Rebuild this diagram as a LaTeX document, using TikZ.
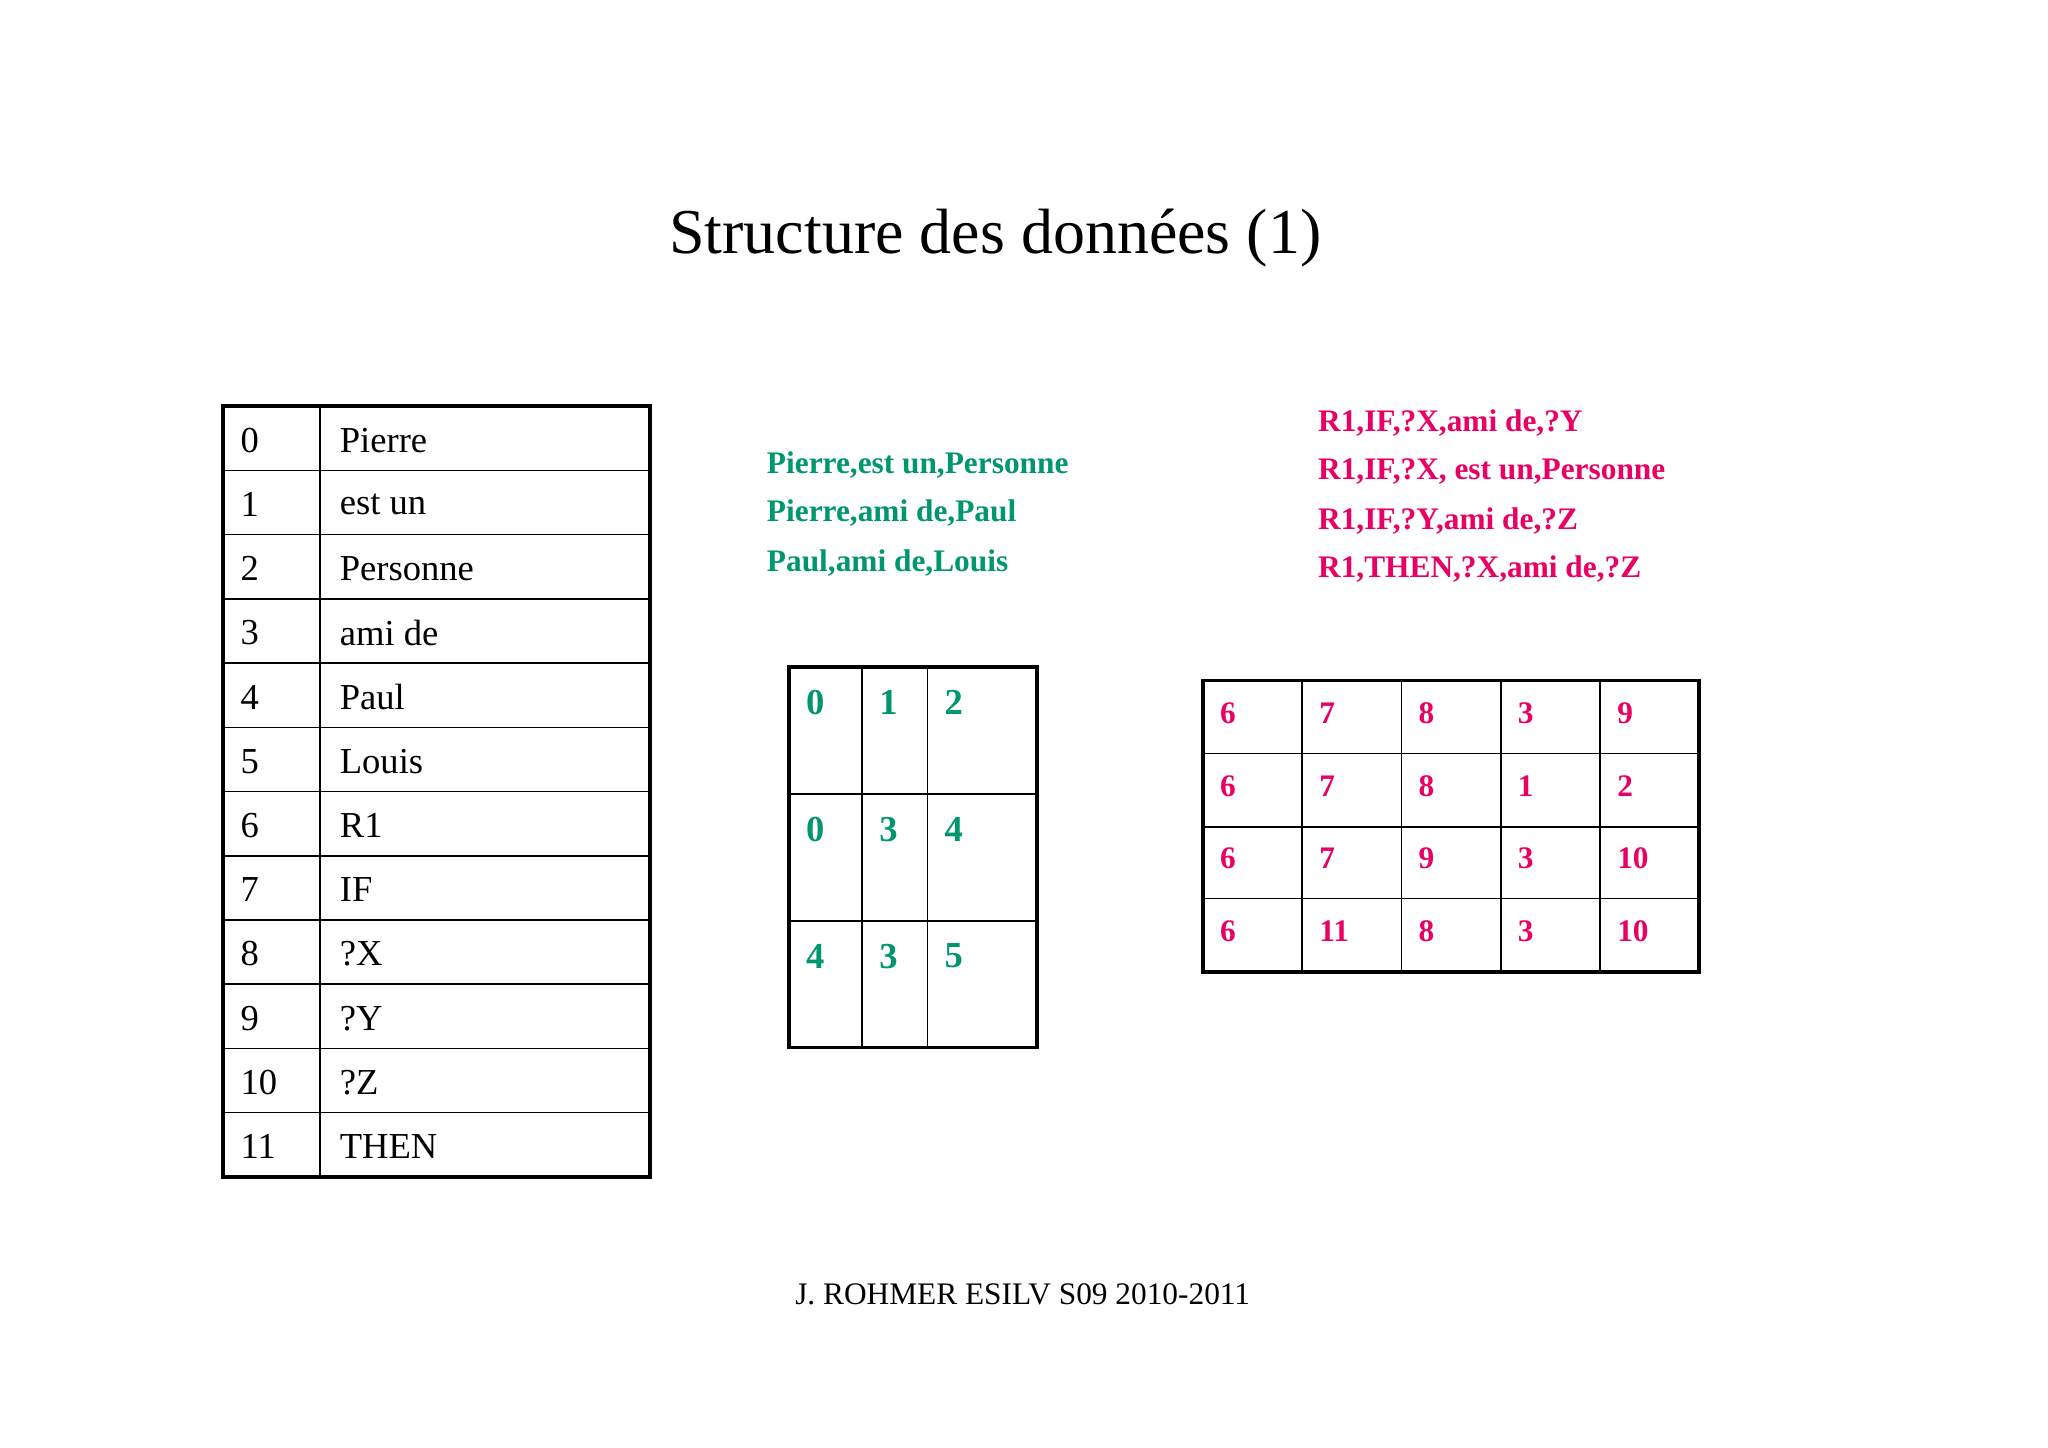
\documentclass[tikz,border=0pt]{standalone}
\usepackage{fontspec}
\setmainfont{Liberation Serif}
\definecolor{gr}{RGB}{0,150,110}
\definecolor{rd}{RGB}{232,0,100}
\begin{document}
\begin{tikzpicture}[x=1pt,y=-1pt,
  tbl/.style={line width=1.2pt},
  frame/.style={line width=3pt},
  cell/.style={anchor=west,inner sep=0pt,font=\fontsize{28}{30}\selectfont},
  gtxt/.style={anchor=west,inner sep=0pt,text=gr,font=\bfseries\fontsize{24}{26}\selectfont},
  rtxt/.style={anchor=west,inner sep=0pt,text=rd,font=\bfseries\fontsize{24}{26}\selectfont},
  gnum/.style={anchor=west,inner sep=0pt,text=gr,font=\bfseries\fontsize{28}{30}\selectfont},
  rnum/.style={anchor=west,inner sep=0pt,text=rd,font=\bfseries\fontsize{24}{26}\selectfont}]
\useasboundingbox[fill=white] (0,0) rectangle (1568,1108);
\node[inner sep=0pt,font=\fontsize{49}{52}\selectfont] (title) at (762,182) {Structure des données (1)};
% left table
\foreach \i in {1,...,11} \draw[tbl] (171,311+\i*49.17) -- (498,311+\i*49.17);
\draw[tbl] (245,311) -- (245,901);
\draw[frame] (171,311) rectangle (498,901);
\foreach \k/\t [count=\i from 0] in {0/Pierre,1/est un,2/Personne,3/ami de,4/Paul,5/Louis,6/R1,7/IF,8/?X,9/?Y,10/?Z,11/THEN}{
  \node[cell] (k\i) at (184,337+\i*49.17) {\k};
  \node[cell] (v\i) at (260,337+\i*49.17) {\t};
}
% green texts
\node[gtxt] (g1) at (587,356) {Pierre,est un,Personne};
\node[gtxt] (g2) at (587,393) {Pierre,ami de,Paul};
\node[gtxt] (g3) at (587,431) {Paul,ami de,Louis};
% red texts
\node[rtxt] (r1) at (1009,324) {R1,IF,?X,ami de,?Y};
\node[rtxt] (r2) at (1009,361) {R1,IF,?X, est un,Personne};
\node[rtxt] (r3) at (1009,399) {R1,IF,?Y,ami de,?Z};
\node[rtxt] (r4) at (1009,436) {R1,THEN,?X,ami de,?Z};
% middle table
\draw[tbl] (604,608) -- (794,608); \draw[tbl] (604,705) -- (794,705);
\draw[tbl] (660,511) -- (660,802); \draw[tbl] (710,511) -- (710,802);
\draw[frame] (604,511) rectangle (794,802);
\foreach \a/\b/\c [count=\r from 0] in {0/1/2,0/3/4,4/3/5}{
  \node[gnum] (ma\r) at (617,538+\r*97) {\a};
  \node[gnum] (mb\r) at (673,538+\r*97) {\b};
  \node[gnum] (mc\r) at (723,538+\r*97) {\c};
}
% right table
\foreach \y in {577,633,688} \draw[tbl] (921,\y) -- (1301,\y);
\foreach \x in {997,1073,1149,1225} \draw[tbl] (\x,521) -- (\x,744);
\draw[frame] (921,521) rectangle (1301,744);
\foreach \a/\b/\c/\d/\e [count=\r from 0] in {6/7/8/3/9,6/7/8/1/2,6/7/9/3/10,6/11/8/3/10}{
  \node[rnum] (ra\r) at (934,546+\r*55.7) {\a};
  \node[rnum] (rb\r) at (1010,546+\r*55.7) {\b};
  \node[rnum] (rc\r) at (1086,546+\r*55.7) {\c};
  \node[rnum] (rd\r) at (1162,546+\r*55.7) {\d};
  \node[rnum] (re\r) at (1238,546+\r*55.7) {\e};
}
\node[inner sep=0pt,font=\fontsize{24}{26}\selectfont] (foot) at (783,991) {J. ROHMER ESILV S09 2010-2011};
\end{tikzpicture}
\end{document}
